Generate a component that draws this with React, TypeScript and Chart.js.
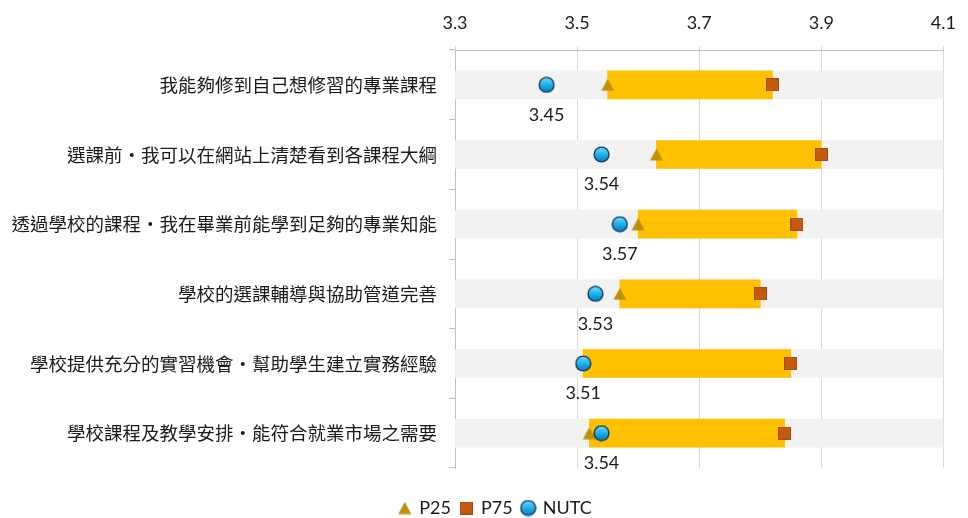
import React, { useEffect, useRef } from 'react';
import { Chart, registerables } from 'chart.js';

Chart.register(...registerables);

const categories = [
  '我能夠修到自己想修習的專業課程',
  '選課前‧我可以在網站上清楚看到各課程大綱',
  '透過學校的課程‧我在畢業前能學到足夠的專業知能',
  '學校的選課輔導與協助管道完善',
  '學校提供充分的實習機會‧幫助學生建立實務經驗',
  '學校課程及教學安排‧能符合就業市場之需要',
];
const p25 = [3.55, 3.63, 3.6, 3.57, 3.51, 3.52];
const p75 = [3.82, 3.9, 3.86, 3.8, 3.85, 3.84];
const nutc = [3.45, 3.54, 3.57, 3.53, 3.51, 3.54];
const xMin = 3.3;
const xMax = 4.1;
const xStep = 0.2;

const LATIN = 'Lato, "Noto Sans", sans-serif';
const CJK = '"Noto Sans CJK TC", "Noto Sans", sans-serif';

const CHART_LEFT = 455;
const CHART_TOP = 50;
const PAD_RIGHT = 21;
const LEGEND_H = 50;
const LEGEND_SHIFT = 22;

function makeTriangle() {
  const c = document.createElement('canvas');
  c.width = 14;
  c.height = 13;
  const g = c.getContext('2d')!;
  g.fillStyle = '#bf9000';
  g.beginPath();
  g.moveTo(7, 0.5);
  g.lineTo(13.5, 12.5);
  g.lineTo(0.5, 12.5);
  g.closePath();
  g.fill();
  return c;
}

function makeSquare() {
  const c = document.createElement('canvas');
  c.width = 13;
  c.height = 13;
  const g = c.getContext('2d')!;
  g.fillStyle = '#c55a11';
  g.fillRect(0, 0, 13, 13);
  g.strokeStyle = '#a84c0e';
  g.lineWidth = 1;
  g.strokeRect(0.5, 0.5, 12, 12);
  return c;
}

function makeCircle() {
  const c = document.createElement('canvas');
  c.width = 17;
  c.height = 17;
  const g = c.getContext('2d')!;
  const grad = g.createLinearGradient(0, 1, 0, 16);
  grad.addColorStop(0, '#6fe0fb');
  grad.addColorStop(0.5, '#1cb2ea');
  grad.addColorStop(1, '#0a78c4');
  g.fillStyle = grad;
  g.beginPath();
  g.arc(8.5, 8.5, 7.4, 0, Math.PI * 2);
  g.fill();
  g.strokeStyle = '#17375e';
  g.lineWidth = 1.4;
  g.stroke();
  return c;
}

const nutcLabelPlugin = {
  id: 'nutcLabels',
  afterDatasetsDraw(chart: any) {
    const idx = chart.data.datasets.findIndex((d: any) => d.label === 'NUTC');
    const meta = chart.getDatasetMeta(idx);
    const ctx = chart.ctx;
    ctx.save();
    ctx.font = `18px ${LATIN}`;
    ctx.fillStyle = '#1a1a1a';
    ctx.textAlign = 'center';
    ctx.textBaseline = 'middle';
    meta.data.forEach((pt: any, i: number) => {
      ctx.fillText(nutc[i].toFixed(2), pt.x, pt.y + 30);
    });
    ctx.restore();
  },
};

const legendFitPlugin = {
  id: 'legendFit',
  beforeUpdate(chart: any) {
    const lg = chart.legend;
    if (lg && !lg._patchedFit) {
      const orig = lg.fit;
      lg.fit = function () {
        orig.call(this);
        this.height = LEGEND_H;
      };
      lg._patchedFit = true;
    }
  },
  afterLayout(chart: any) {
    const lg = chart.legend;
    if (lg) {
      lg.left += LEGEND_SHIFT;
      lg.right += LEGEND_SHIFT;
    }
  },
};

export default function App() {
  const ref = useRef<HTMLCanvasElement | null>(null);

  useEffect(() => {
    if (!ref.current) return;
    const tri = makeTriangle();
    const sq = makeSquare();
    const circ = makeCircle();
    const band = categories.map(() => [xMin, xMax]);
    const range = categories.map((_, i) => [p25[i], p75[i]]);
    const chart = new Chart(ref.current, {
      type: 'bar',
      data: {
        labels: categories,
        datasets: [
          {
            type: 'bar',
            label: 'band',
            data: band as any,
            backgroundColor: '#f2f2f2',
            barThickness: 28,
            grouped: false,
            order: 5,
          },
          {
            type: 'bar',
            label: 'range',
            data: range as any,
            backgroundColor: '#ffc000',
            barThickness: 28,
            grouped: false,
            order: 4,
          },
          {
            type: 'line',
            label: 'P25',
            data: p25,
            indexAxis: 'y',
            showLine: false,
            pointStyle: tri,
            pointRadius: 8,
            pointHoverRadius: 8,
            backgroundColor: '#bf9000',
            borderColor: '#bf9000',
            order: 3,
          } as any,
          {
            type: 'line',
            label: 'P75',
            data: p75,
            indexAxis: 'y',
            showLine: false,
            pointStyle: sq,
            pointRadius: 8,
            pointHoverRadius: 8,
            backgroundColor: '#c55a11',
            borderColor: '#c55a11',
            order: 2,
          } as any,
          {
            type: 'line',
            label: 'NUTC',
            data: nutc,
            indexAxis: 'y',
            showLine: false,
            pointStyle: circ,
            pointRadius: 8,
            pointHoverRadius: 8,
            backgroundColor: '#19a6e2',
            borderColor: '#1f3864',
            order: 1,
          } as any,
        ],
      },
      options: {
        indexAxis: 'y',
        animation: false,
        responsive: true,
        maintainAspectRatio: false,
        layout: { padding: { left: 0, right: PAD_RIGHT, top: 0, bottom: 0 } },
        scales: {
          x: {
            position: 'top',
            min: xMin,
            max: xMax,
            afterFit: (scale: any) => {
              scale.height = CHART_TOP;
            },
            ticks: {
              stepSize: xStep,
              padding: 12,
              color: '#1a1a1a',
              font: { family: LATIN, size: 18 },
              callback: (v: any) => Number(v).toFixed(1),
            },
            grid: {
              color: '#d9d9d9',
              lineWidth: 1,
              tickLength: 4,
              drawTicks: true,
            },
            border: { color: '#bfbfbf', width: 1 },
          },
          y: {
            afterFit: (scale: any) => {
              scale.width = CHART_LEFT;
            },
            ticks: {
              padding: 12,
              color: '#1a1a1a',
              font: { family: CJK, size: 18.5 },
            },
            grid: {
              drawOnChartArea: false,
              drawTicks: true,
              tickLength: 6,
              color: '#bfbfbf',
              offset: true,
            },
            border: { color: '#bfbfbf', width: 1 },
          },
        },
        plugins: {
          tooltip: { enabled: false },
          legend: {
            position: 'bottom',
            labels: {
              usePointStyle: true,
              boxWidth: 11,
              boxHeight: 11,
              padding: 10,
              color: '#1a1a1a',
              font: { family: LATIN, size: 18 },
              filter: (item: any) => ['P25', 'P75', 'NUTC'].includes(item.text),
              sort: (a: any, b: any) => a.datasetIndex - b.datasetIndex,
            },
            title: {
              display: true,
              text: ' ',
              font: { size: 10 },
              padding: { top: 9, bottom: 0 },
            },
          },
        },
      } as any,
      plugins: [nutcLabelPlugin, legendFitPlugin],
    });
    return () => chart.destroy();
  }, []);

  return (
    <div style={{ position: 'fixed', left: 0, top: 0, width: 968, height: 518 }}>
      <canvas ref={ref} />
    </div>
  );
}
